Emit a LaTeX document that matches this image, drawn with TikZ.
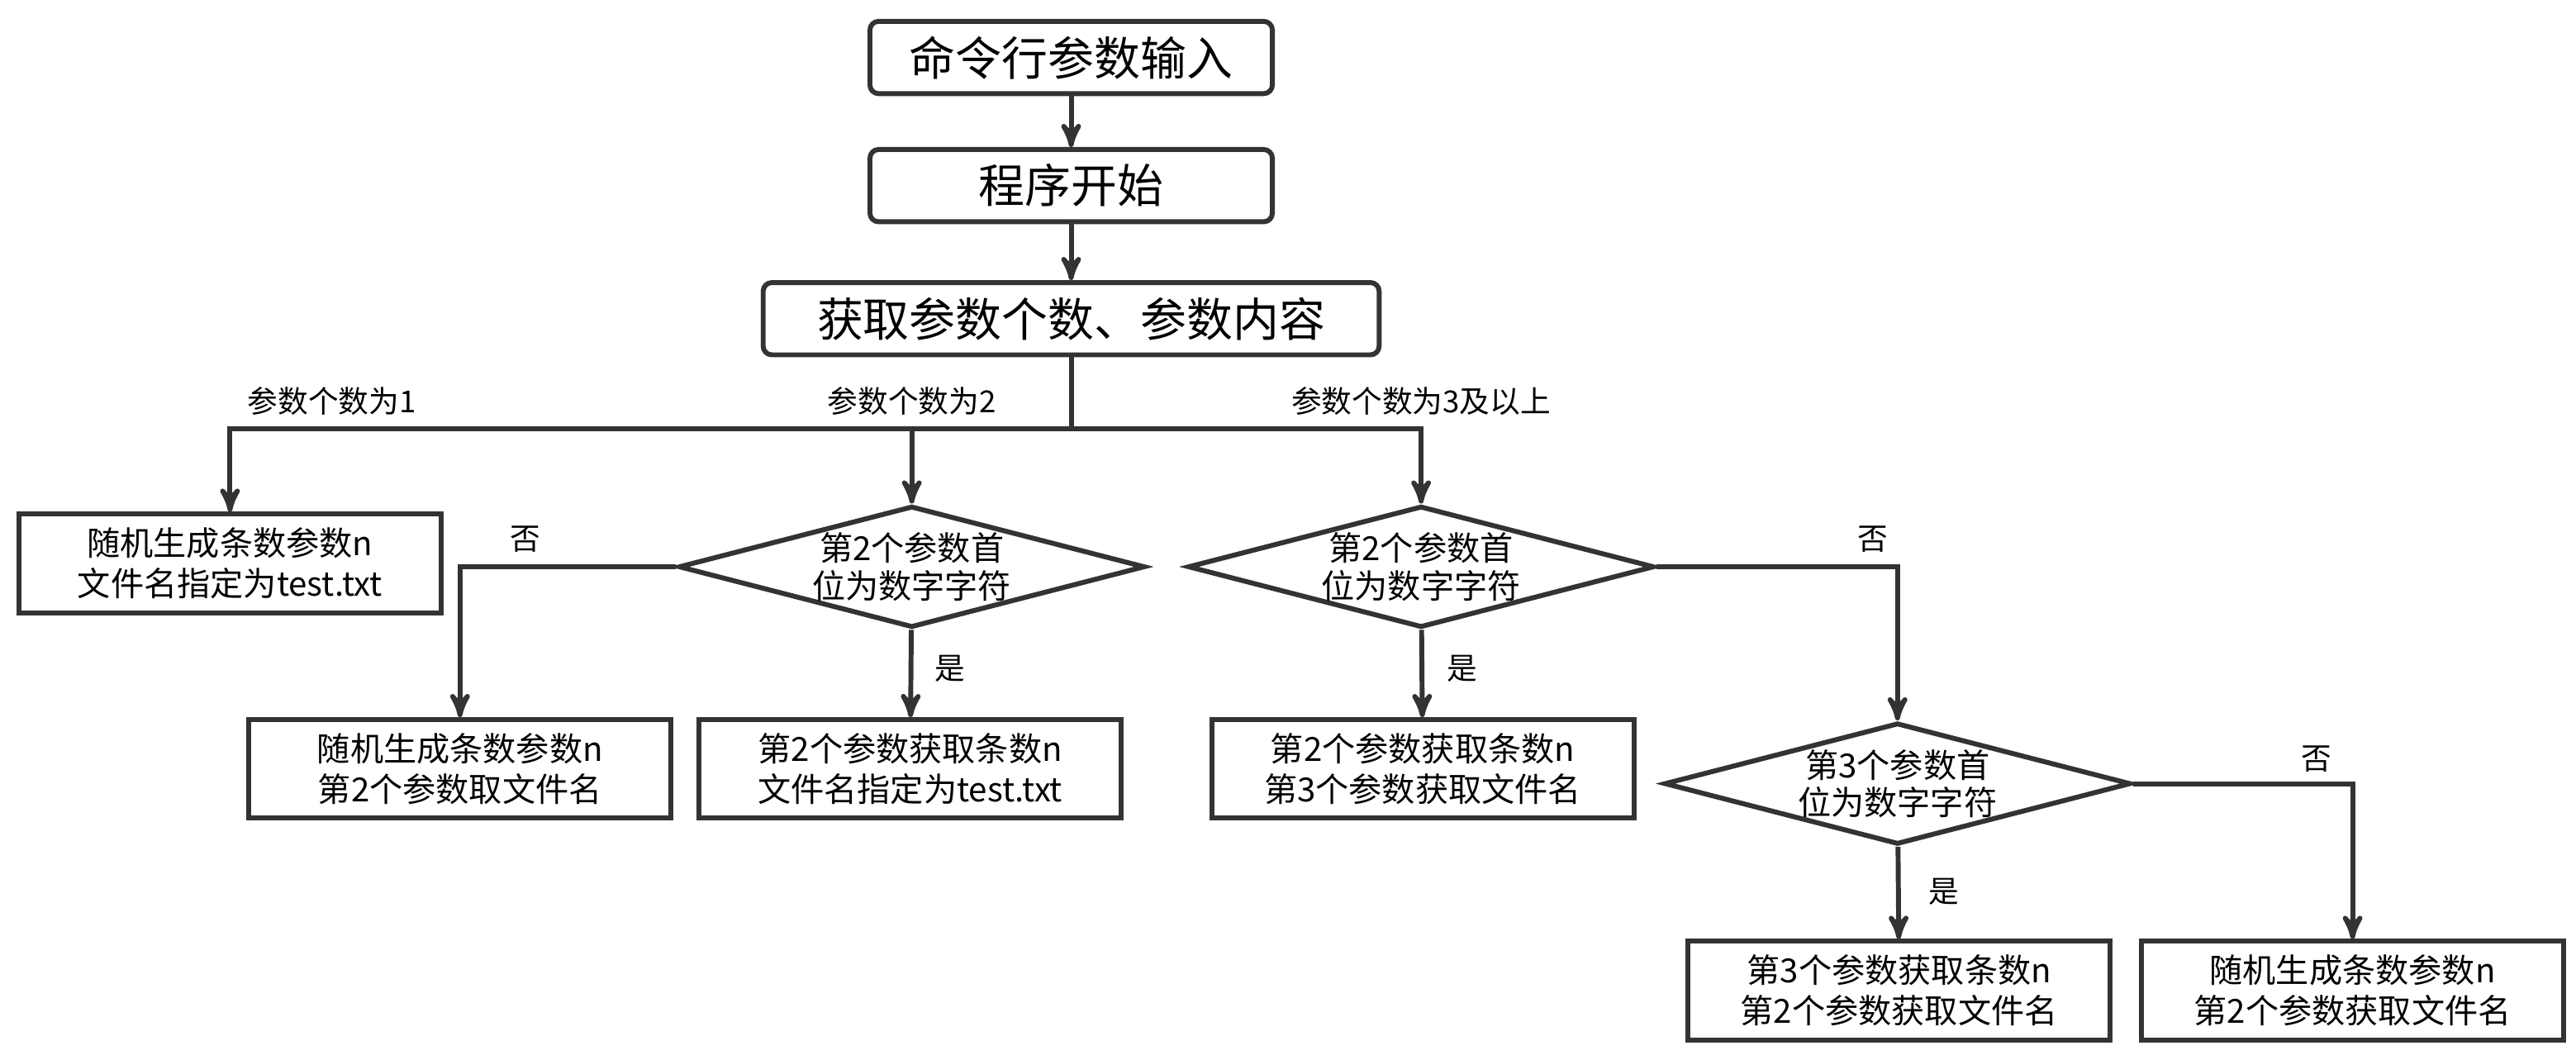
\documentclass[tikz,border=0pt]{standalone}
\usepackage{fontspec}
\setmainfont{Noto Sans CJK SC}
\usetikzlibrary{arrows,shapes.geometric}
\definecolor{linegray}{HTML}{333333}
\tikzset{
    %Define standard arrow tip
    >=stealth',
    %Define style for boxes
    bigbox/.style={
           rectangle,
           rounded corners=3pt,
           draw=linegray, line width=1.7pt,
           minimum height=0.88cm,
           font=\fontsize{16}{18}\selectfont,
           text centered,
           },
    smallbox/.style={
           rectangle,
           draw=linegray, line width=1.7pt,
           minimum width=5.14cm,
           minimum height=1.2cm,
           align=center,
           font=\fontsize{11.5}{14}\selectfont,
           },
    test/.style={
           diamond,
           aspect=3.84,
           inner sep=0pt,
           draw=linegray, line width=1.7pt,
           minimum width=5.68cm,
           minimum height=1.48cm,
           align=center,
           font=\fontsize{11.5}{13}\selectfont,
           },
    lbl/.style={font=\fontsize{10.5}{12}\selectfont},
    % Define arrow style
    pil/.style={
           ->,
           draw=linegray,
           line width=1.7pt,},
}
\begin{document}
\begin{tikzpicture}[x=0.02cm,y=-0.02cm]
\useasboundingbox (0,0) rectangle (1568,642);
% upper part
\node[bigbox, minimum width=4.9cm] (input) at (652,35) {命令行参数输入};
\node[bigbox, minimum width=4.9cm] (start) at (652,113) {程序开始};
\node[bigbox, minimum width=7.5cm] (read) at (652,194) {获取参数个数、参数内容};
\coordinate (split) at (652,261);
% branches
\node[smallbox] (one) at (140,343) {随机生成条数参数n\\文件名指定为test.txt};
\node[test] (dtwo) at (555,345) {第2个参数首\\位为数字字符};
\node[test] (dthree) at (865,345) {第2个参数首\\位为数字字符};
\node[smallbox] (twono) at (280,468) {随机生成条数参数n\\第2个参数取文件名};
\node[smallbox] (twoyes) at (554,468) {第2个参数获取条数n\\文件名指定为test.txt};
\node[smallbox] (threeyes) at (866,468) {第2个参数获取条数n\\第3个参数获取文件名};
\node[test] (dfour) at (1155,477) {第3个参数首\\位为数字字符};
\node[smallbox] (fouryes) at (1156,603) {第3个参数获取条数n\\第2个参数获取文件名};
\node[smallbox] (fourno) at (1432,603) {随机生成条数参数n\\第2个参数获取文件名};
% labels
\node[lbl] at (202,244) {参数个数为1};
\node[lbl] at (555,244) {参数个数为2};
\node[lbl] at (865,244) {参数个数为3及以上};
\node[lbl] at (320,328) {否};
\node[lbl] at (578,407) {是};
\node[lbl] at (890,407) {是};
\node[lbl] at (1140,328) {否};
\node[lbl] at (1183,543) {是};
\node[lbl] at (1410,462) {否};
% connectors
\draw[pil] (input) -- (start);
\draw[pil] (start) -- (read);
\draw[draw=linegray, line width=1.7pt] (read) -- (split);
\draw[pil] (split) -| (one);
\draw[pil] (split) -| (dtwo);
\draw[pil] (split) -| (dthree);
\draw[pil] (dtwo.west) -| (twono);
\draw[pil] (dtwo) -- (twoyes);
\draw[pil] (dthree) -- (threeyes);
\draw[pil] (dthree.east) -| (dfour);
\draw[pil] (dfour) -- (fouryes);
\draw[pil] (dfour.east) -| (fourno);
\end{tikzpicture}
\end{document}
